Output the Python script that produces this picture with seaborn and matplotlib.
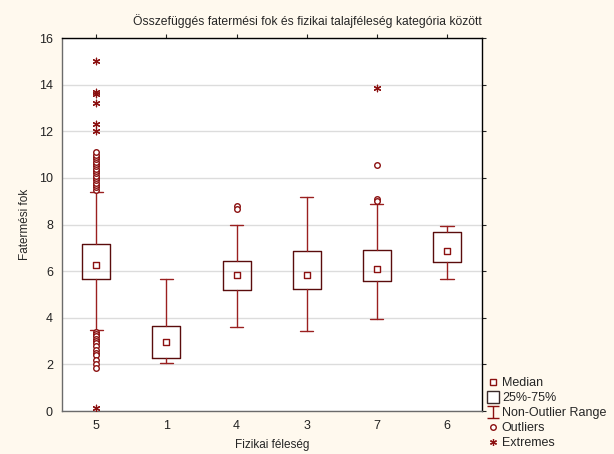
import numpy as np
import pandas as pd
import matplotlib
matplotlib.use('Agg')
import matplotlib.pyplot as plt
from matplotlib.lines import Line2D
from matplotlib.path import Path
import seaborn as sns

# categories in plotting order
cats = ['5', '1', '4', '3', '7', '6']
q1 = [5.66, 2.27, 5.19, 5.23, 5.58, 6.39]
med = [6.26, 2.96, 5.84, 5.84, 6.09, 6.86]
q3 = [7.16, 3.65, 6.43, 6.86, 6.90, 7.68]
whis_lo = [3.47, 2.06, 3.60, 3.43, 3.95, 5.66]
whis_hi = [9.40, 5.66, 7.98, 9.18, 8.88, 7.94]

# outliers (circles) and extremes (asterisks)
outliers = {
    '5': [9.5, 9.6, 9.7, 9.8, 9.9, 10.0, 10.1, 10.2, 10.3, 10.4, 10.5, 10.6,
          10.7, 10.8, 10.9, 11.0, 11.1,
          3.4, 3.3, 3.2, 3.1, 3.0, 2.9, 2.8, 2.6, 2.5, 2.4, 2.2, 2.0, 1.85],
    '4': [8.8, 8.67],
    '7': [10.55, 9.1, 9.0],
}
extremes = {
    '5': [15.0, 13.7, 13.6, 13.2, 12.3, 12.0, 0.15],
    '7': [13.86],
}

red = '#8b1010'
boxc = '#5a0c0c'

out_df = pd.DataFrame([(cats.index(c), v) for c in outliers for v in outliers[c]],
                      columns=['pos', 'val'])
ext_df = pd.DataFrame([(cats.index(c), v) for c in extremes for v in extremes[c]],
                      columns=['pos', 'val'])
med_df = pd.DataFrame({'pos': range(len(cats)), 'val': med})

sns.set_style('white')
plt.rcParams['font.family'] = ['Liberation Sans', 'DejaVu Sans']

fig = plt.figure(figsize=(6.14, 4.54), dpi=100, facecolor='#fff9ee')
ax = fig.add_axes([62/614, 43/454, 420/614, 373/454])
ax.set_facecolor('white')

stats = [dict(q1=a, med=m, q3=b, whislo=lo, whishi=hi, fliers=[])
         for a, m, b, lo, hi in zip(q1, med, q3, whis_lo, whis_hi)]
ax.bxp(stats, positions=range(len(cats)), widths=0.4, capwidths=0.19,
       showfliers=False, patch_artist=False,
       boxprops=dict(color=boxc, linewidth=1.0),
       whiskerprops=dict(color='#9a2020', linewidth=1.0),
       capprops=dict(color='#9a2020', linewidth=1.0),
       medianprops=dict(linewidth=0))

sns.scatterplot(data=med_df, x='pos', y='val', marker='s', s=16,
                facecolor='white', edgecolor=red, linewidth=1.0, ax=ax, zorder=5)
sns.scatterplot(data=out_df, x='pos', y='val', marker='o', s=16,
                facecolor='white', edgecolor=red, linewidth=1.0, ax=ax, zorder=5)
sns.scatterplot(data=ext_df, x='pos', y='val', marker=(6, 2, 0), s=22,
                color=red, edgecolor=red, linewidth=0.9, ax=ax, zorder=5)

ax.set_xlim(-0.49, 5.5)
ax.set_ylim(0, 16)
ax.set_yticks(range(0, 17, 2))
ax.set_xticks(range(len(cats)))
ax.set_xticklabels(cats)
ax.yaxis.grid(True, color='#dcdcdc', linewidth=1.0)
ax.set_axisbelow(True)
ax.tick_params(axis='both', labelsize=9, colors='#222222', length=3,
               width=0.8, direction='out')
ax.tick_params(which='both', top=True, right=True)
for side in ['left', 'bottom']:
    ax.spines[side].set_color('#6b6b6b')
for side in ['top', 'right']:
    ax.spines[side].set_color('black')
for s in ax.spines.values():
    s.set_linewidth(1.0)
ax.set_xlabel('Fizikai féleség', fontsize=8.5, labelpad=5)
ax.set_ylabel('Fatermési fok', fontsize=8.5, labelpad=6)

fig.text(0.5, 1 - 21/454, 'Összefüggés fatermési fok és fizikai talajféleség kategória között',
         ha='center', va='center', fontsize=8.7)

# legend
whisk = Path([(-0.5, 0.5), (0.5, 0.5), (0, 0.5), (0, -0.5), (-0.5, -0.5), (0.5, -0.5)],
             [Path.MOVETO, Path.LINETO, Path.MOVETO, Path.LINETO, Path.MOVETO, Path.LINETO])
handles = [
    Line2D([], [], ls='', marker='s', ms=4, mfc='white', mec=red, mew=1.0),
    Line2D([], [], ls='', marker='s', ms=8, mfc='white', mec='#3a2a2a', mew=1.0),
    Line2D([], [], ls='', marker=whisk, ms=8, mec=red, mew=1.0),
    Line2D([], [], ls='', marker='o', ms=4, mfc='white', mec=red, mew=1.0),
    Line2D([], [], ls='', marker=(6, 2, 0), ms=5, mec=red, mew=0.9),
]
labels = ['Median', '25%-75%', 'Non-Outlier Range', 'Outliers', 'Extremes']
fig.legend(handles, labels, loc='lower left', bbox_to_anchor=(480/614, -0.006),
           frameon=False, fontsize=9, handlelength=0.9, handletextpad=0.25,
           labelspacing=0.24, borderaxespad=0.2)

fig.savefig('out.png', dpi=100, facecolor=fig.get_facecolor())
